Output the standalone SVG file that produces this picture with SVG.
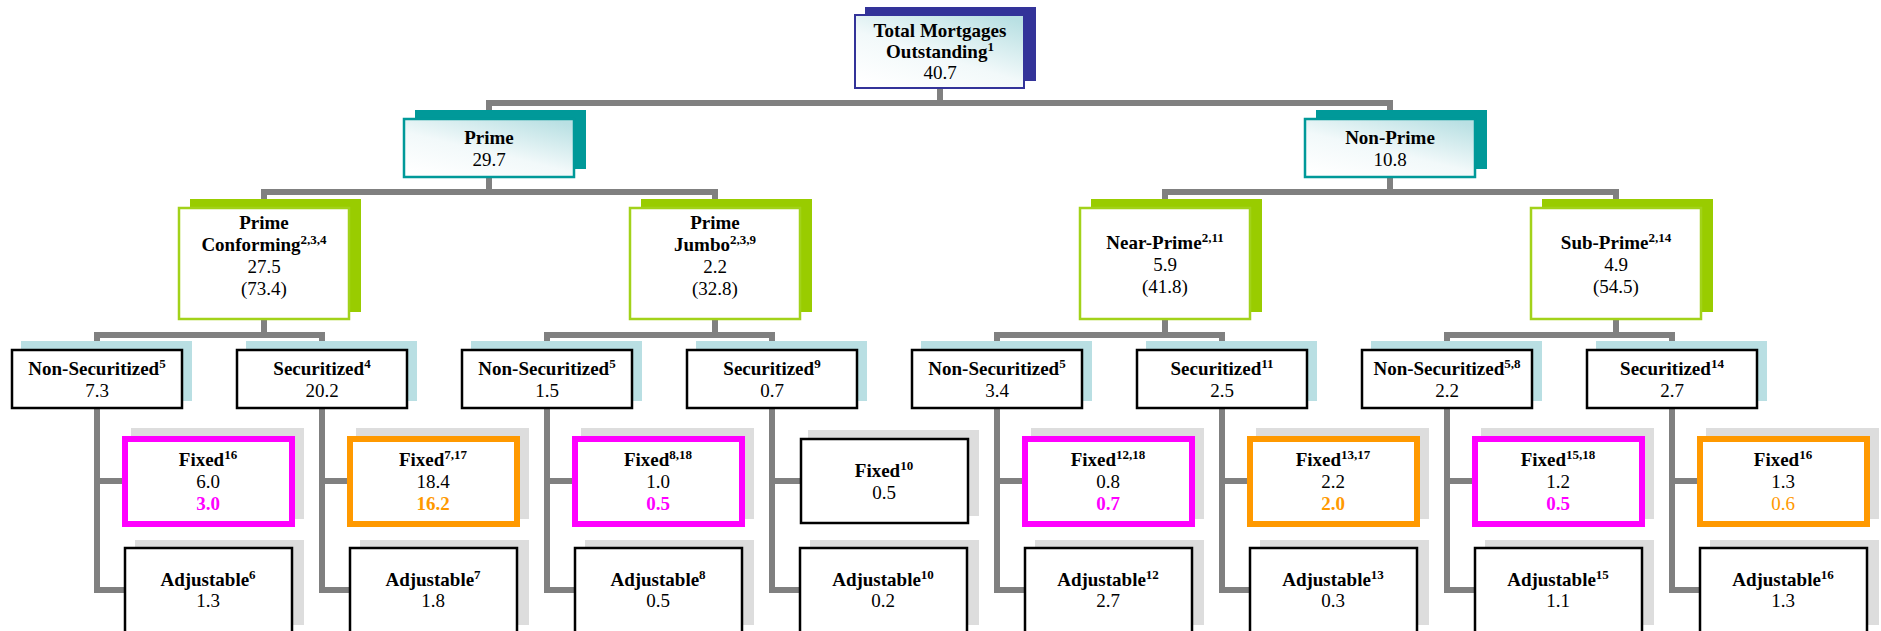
<svg xmlns="http://www.w3.org/2000/svg" width="1881" height="631" viewBox="0 0 1881 631">
<defs>
<linearGradient id="g" x1="0.15" y1="1" x2="0.85" y2="0">
<stop offset="0" stop-color="#ffffff"/>
<stop offset="0.45" stop-color="#f2f9fa"/>
<stop offset="1" stop-color="#b9e0e3"/>
</linearGradient>
<style>
.ln{fill:none;stroke:#808080;stroke-width:6;stroke-linejoin:miter}
.t{font-family:"Liberation Serif","Times New Roman",serif;font-size:19px;text-anchor:middle;fill:#000}
.b{font-weight:bold}
.s{font-size:13px}
.sh1{fill:#333399}
.sh2{fill:#009999}
.sh3{fill:#99cc00}
.sh4{fill:#b9dfe3}
.sh5{fill:#dddddd}
.bx1{fill:url(#g);stroke:#333399;stroke-width:2}
.bx2{fill:url(#g);stroke:#009999;stroke-width:2.5}
.bx3{fill:#fff;stroke:#a2d21a;stroke-width:2.5}
.bx4{fill:#fff;stroke:#000;stroke-width:2.5}
.fm{fill:#fff;stroke:#ff00ff;stroke-width:6}
.fo{fill:#fff;stroke:#ff9900;stroke-width:6}
.m{fill:#ff00ff}
.o{fill:#ff9900}
</style>
</defs>
<rect width="1881" height="631" fill="#fff"/>

<g id="connectors">
<path class="ln" d="M940 89 V103"/>
<path class="ln" d="M489 118 V103 H1390 V118"/>
<path class="ln" d="M489 178 V192"/>
<path class="ln" d="M264 207 V192 H715 V207"/>
<path class="ln" d="M1390 178 V192"/>
<path class="ln" d="M1165 207 V192 H1616 V207"/>
<path class="ln" d="M264 320 V335"/>
<path class="ln" d="M97 349 V335 H322 V349"/>
<path class="ln" d="M715 320 V335"/>
<path class="ln" d="M547 349 V335 H772 V349"/>
<path class="ln" d="M1165 320 V335"/>
<path class="ln" d="M997 349 V335 H1222 V349"/>
<path class="ln" d="M1616 320 V335"/>
<path class="ln" d="M1447 349 V335 H1672 V349"/>
<path class="ln" d="M97 409 V590 H125 M97 481 H125"/>
<path class="ln" d="M322 409 V590 H350 M322 481 H350"/>
<path class="ln" d="M547 409 V590 H575 M547 481 H575"/>
<path class="ln" d="M772 409 V590 H800 M772 481 H800"/>
<path class="ln" d="M997 409 V590 H1025 M997 481 H1025"/>
<path class="ln" d="M1222 409 V590 H1250 M1222 481 H1250"/>
<path class="ln" d="M1447 409 V590 H1475 M1447 481 H1475"/>
<path class="ln" d="M1672 409 V590 H1700 M1672 481 H1700"/>
</g>

<g id="total">
<rect class="sh1" x="865" y="7" width="171" height="74"/>
<rect class="bx1" x="855" y="15" width="169" height="73"/>
<text class="t b" x="940" y="37">Total Mortgages</text>
<text class="t b" x="940" y="58">Outstanding<tspan class="s" dy="-7">1</tspan></text>
<text class="t" x="940" y="79">40.7</text>
</g>

<g id="prime">
<rect class="sh2" x="415" y="110" width="171" height="59"/>
<rect class="bx2" x="404" y="119" width="170" height="58"/>
<text class="t b" x="489" y="144">Prime</text>
<text class="t" x="489" y="166">29.7</text>
</g>

<g id="nonprime">
<rect class="sh2" x="1316" y="110" width="171" height="59"/>
<rect class="bx2" x="1305" y="119" width="170" height="58"/>
<text class="t b" x="1390" y="144">Non-Prime</text>
<text class="t" x="1390" y="166">10.8</text>
</g>

<g id="prime-conforming">
<rect class="sh3" x="190" y="199" width="171" height="113"/>
<rect class="bx3" x="179" y="208" width="170" height="111"/>
<text class="t b" x="264" y="229">Prime</text>
<text class="t b" x="264" y="251">Conforming<tspan class="s" dy="-7">2,3,4</tspan></text>
<text class="t" x="264" y="273">27.5</text>
<text class="t" x="264" y="295">(73.4)</text>
</g>

<g id="prime-jumbo">
<rect class="sh3" x="641" y="199" width="171" height="113"/>
<rect class="bx3" x="630" y="208" width="170" height="111"/>
<text class="t b" x="715" y="229">Prime</text>
<text class="t b" x="715" y="251">Jumbo<tspan class="s" dy="-7">2,3,9</tspan></text>
<text class="t" x="715" y="273">2.2</text>
<text class="t" x="715" y="295">(32.8)</text>
</g>

<g id="near-prime">
<rect class="sh3" x="1091" y="199" width="171" height="113"/>
<rect class="bx3" x="1080" y="208" width="170" height="111"/>
<text class="t b" x="1165" y="249">Near-Prime<tspan class="s" dy="-7">2,11</tspan></text>
<text class="t" x="1165" y="271">5.9</text>
<text class="t" x="1165" y="293">(41.8)</text>
</g>

<g id="sub-prime">
<rect class="sh3" x="1542" y="199" width="171" height="113"/>
<rect class="bx3" x="1531" y="208" width="170" height="111"/>
<text class="t b" x="1616" y="249">Sub-Prime<tspan class="s" dy="-7">2,14</tspan></text>
<text class="t" x="1616" y="271">4.9</text>
<text class="t" x="1616" y="293">(54.5)</text>
</g>

<g id="pc-nonsec">
<rect class="sh4" x="21" y="341" width="171" height="60"/>
<rect class="bx4" x="12" y="350" width="170" height="58"/>
<text class="t b" x="97" y="375">Non-Securitized<tspan class="s" dy="-7">5</tspan></text>
<text class="t" x="97" y="397">7.3</text>
</g>
<g id="pc-sec">
<rect class="sh4" x="246" y="341" width="171" height="60"/>
<rect class="bx4" x="237" y="350" width="170" height="58"/>
<text class="t b" x="322" y="375">Securitized<tspan class="s" dy="-7">4</tspan></text>
<text class="t" x="322" y="397">20.2</text>
</g>
<g id="pj-nonsec">
<rect class="sh4" x="471" y="341" width="171" height="60"/>
<rect class="bx4" x="462" y="350" width="170" height="58"/>
<text class="t b" x="547" y="375">Non-Securitized<tspan class="s" dy="-7">5</tspan></text>
<text class="t" x="547" y="397">1.5</text>
</g>
<g id="pj-sec">
<rect class="sh4" x="696" y="341" width="171" height="60"/>
<rect class="bx4" x="687" y="350" width="170" height="58"/>
<text class="t b" x="772" y="375">Securitized<tspan class="s" dy="-7">9</tspan></text>
<text class="t" x="772" y="397">0.7</text>
</g>
<g id="np-nonsec">
<rect class="sh4" x="921" y="341" width="171" height="60"/>
<rect class="bx4" x="912" y="350" width="170" height="58"/>
<text class="t b" x="997" y="375">Non-Securitized<tspan class="s" dy="-7">5</tspan></text>
<text class="t" x="997" y="397">3.4</text>
</g>
<g id="np-sec">
<rect class="sh4" x="1146" y="341" width="171" height="60"/>
<rect class="bx4" x="1137" y="350" width="170" height="58"/>
<text class="t b" x="1222" y="375">Securitized<tspan class="s" dy="-7">11</tspan></text>
<text class="t" x="1222" y="397">2.5</text>
</g>
<g id="sp-nonsec">
<rect class="sh4" x="1371" y="341" width="171" height="60"/>
<rect class="bx4" x="1362" y="350" width="170" height="58"/>
<text class="t b" x="1447" y="375">Non-Securitized<tspan class="s" dy="-7">5,8</tspan></text>
<text class="t" x="1447" y="397">2.2</text>
</g>
<g id="sp-sec">
<rect class="sh4" x="1596" y="341" width="171" height="60"/>
<rect class="bx4" x="1587" y="350" width="170" height="58"/>
<text class="t b" x="1672" y="375">Securitized<tspan class="s" dy="-7">14</tspan></text>
<text class="t" x="1672" y="397">2.7</text>
</g>

<g id="pc-nonsec-fixed">
<rect class="sh5" x="131" y="428" width="173" height="91"/>
<rect class="fm" x="125" y="439" width="167" height="85"/>
<text class="t b" x="208" y="466">Fixed<tspan class="s" dy="-7">16</tspan></text>
<text class="t" x="208" y="488">6.0</text>
<text class="t b m" x="208" y="510">3.0</text>
</g>
<g id="pc-nonsec-adj">
<rect class="sh5" x="135" y="540" width="169" height="85"/>
<rect class="bx4" x="125" y="548" width="167" height="90"/>
<text class="t b" x="208" y="586">Adjustable<tspan class="s" dy="-7">6</tspan></text>
<text class="t" x="208" y="607">1.3</text>
</g>
<g id="pc-sec-fixed">
<rect class="sh5" x="356" y="428" width="173" height="91"/>
<rect class="fo" x="350" y="439" width="167" height="85"/>
<text class="t b" x="433" y="466">Fixed<tspan class="s" dy="-7">7,17</tspan></text>
<text class="t" x="433" y="488">18.4</text>
<text class="t b o" x="433" y="510">16.2</text>
</g>
<g id="pc-sec-adj">
<rect class="sh5" x="360" y="540" width="169" height="85"/>
<rect class="bx4" x="350" y="548" width="167" height="90"/>
<text class="t b" x="433" y="586">Adjustable<tspan class="s" dy="-7">7</tspan></text>
<text class="t" x="433" y="607">1.8</text>
</g>
<g id="pj-nonsec-fixed">
<rect class="sh5" x="581" y="428" width="173" height="91"/>
<rect class="fm" x="575" y="439" width="167" height="85"/>
<text class="t b" x="658" y="466">Fixed<tspan class="s" dy="-7">8,18</tspan></text>
<text class="t" x="658" y="488">1.0</text>
<text class="t b m" x="658" y="510">0.5</text>
</g>
<g id="pj-nonsec-adj">
<rect class="sh5" x="585" y="540" width="169" height="85"/>
<rect class="bx4" x="575" y="548" width="167" height="90"/>
<text class="t b" x="658" y="586">Adjustable<tspan class="s" dy="-7">8</tspan></text>
<text class="t" x="658" y="607">0.5</text>
</g>
<g id="pj-sec-fixed">
<rect class="sh5" x="808" y="430" width="171" height="86"/>
<rect class="bx4" x="801" y="439" width="167" height="84"/>
<text class="t b" x="884" y="477">Fixed<tspan class="s" dy="-7">10</tspan></text>
<text class="t" x="884" y="499">0.5</text>
</g>
<g id="pj-sec-adj">
<rect class="sh5" x="810" y="540" width="169" height="85"/>
<rect class="bx4" x="800" y="548" width="167" height="90"/>
<text class="t b" x="883" y="586">Adjustable<tspan class="s" dy="-7">10</tspan></text>
<text class="t" x="883" y="607">0.2</text>
</g>
<g id="np-nonsec-fixed">
<rect class="sh5" x="1031" y="428" width="173" height="91"/>
<rect class="fm" x="1025" y="439" width="167" height="85"/>
<text class="t b" x="1108" y="466">Fixed<tspan class="s" dy="-7">12,18</tspan></text>
<text class="t" x="1108" y="488">0.8</text>
<text class="t b m" x="1108" y="510">0.7</text>
</g>
<g id="np-nonsec-adj">
<rect class="sh5" x="1035" y="540" width="169" height="85"/>
<rect class="bx4" x="1025" y="548" width="167" height="90"/>
<text class="t b" x="1108" y="586">Adjustable<tspan class="s" dy="-7">12</tspan></text>
<text class="t" x="1108" y="607">2.7</text>
</g>
<g id="np-sec-fixed">
<rect class="sh5" x="1256" y="428" width="173" height="91"/>
<rect class="fo" x="1250" y="439" width="167" height="85"/>
<text class="t b" x="1333" y="466">Fixed<tspan class="s" dy="-7">13,17</tspan></text>
<text class="t" x="1333" y="488">2.2</text>
<text class="t b o" x="1333" y="510">2.0</text>
</g>
<g id="np-sec-adj">
<rect class="sh5" x="1260" y="540" width="169" height="85"/>
<rect class="bx4" x="1250" y="548" width="167" height="90"/>
<text class="t b" x="1333" y="586">Adjustable<tspan class="s" dy="-7">13</tspan></text>
<text class="t" x="1333" y="607">0.3</text>
</g>
<g id="sp-nonsec-fixed">
<rect class="sh5" x="1481" y="428" width="173" height="91"/>
<rect class="fm" x="1475" y="439" width="167" height="85"/>
<text class="t b" x="1558" y="466">Fixed<tspan class="s" dy="-7">15,18</tspan></text>
<text class="t" x="1558" y="488">1.2</text>
<text class="t b m" x="1558" y="510">0.5</text>
</g>
<g id="sp-nonsec-adj">
<rect class="sh5" x="1485" y="540" width="169" height="85"/>
<rect class="bx4" x="1475" y="548" width="167" height="90"/>
<text class="t b" x="1558" y="586">Adjustable<tspan class="s" dy="-7">15</tspan></text>
<text class="t" x="1558" y="607">1.1</text>
</g>
<g id="sp-sec-fixed">
<rect class="sh5" x="1706" y="428" width="173" height="91"/>
<rect class="fo" x="1700" y="439" width="167" height="85"/>
<text class="t b" x="1783" y="466">Fixed<tspan class="s" dy="-7">16</tspan></text>
<text class="t" x="1783" y="488">1.3</text>
<text class="t o" x="1783" y="510">0.6</text>
</g>
<g id="sp-sec-adj">
<rect class="sh5" x="1710" y="540" width="169" height="85"/>
<rect class="bx4" x="1700" y="548" width="167" height="90"/>
<text class="t b" x="1783" y="586">Adjustable<tspan class="s" dy="-7">16</tspan></text>
<text class="t" x="1783" y="607">1.3</text>
</g>
</svg>
